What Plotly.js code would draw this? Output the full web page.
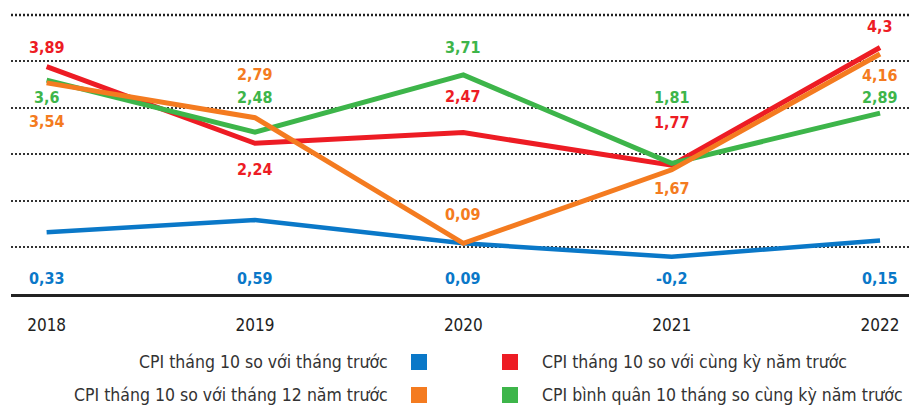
<!DOCTYPE html>
<html>
<head>
<meta charset="utf-8">
<script src="https://cdn.plot.ly/plotly-3.0.1.min.js"></script>
<style>
  html, body { margin: 0; padding: 0; background: #fff; }
  #chart { width: 909px; height: 405px; }
</style>
</head>
<body>
<div id="chart"></div>
<script>
// ---- data ----
const years = ['2018', '2019', '2020', '2021', '2022'];
const cpiMoM = [0.33, 0.59, 0.09, -0.2, 0.15];          // CPI tháng 10 so với tháng trước
const cpiYoY = [3.89, 2.24, 2.47, 1.77, 4.3];           // CPI tháng 10 so với cùng kỳ năm trước
const cpiYtdDec = [3.54, 2.79, 0.09, 1.67, 4.16];       // CPI tháng 10 so với tháng 12 năm trước
const cpiAvg10 = [3.6, 2.48, 3.71, 1.81, 2.89];         // CPI bình quân 10 tháng so cùng kỳ năm trước
const gridVals = [-1, 0, 1, 2, 3, 4, 5];
const seriesNames = [
  'CPI tháng 10 so với tháng trước',
  'CPI tháng 10 so với cùng kỳ năm trước',
  'CPI tháng 10 so với tháng 12 năm trước',
  'CPI bình quân 10 tháng so cùng kỳ năm trước'
];

// ---- style ----
const COLORS = { blue: '#0A78C8', red: '#ED1C24', orange: '#F47B20', green: '#3DB54A' };
const FONT = '"Liberation Sans Narrow", "DejaVu Sans Condensed", Roboto, sans-serif';
const W = 909, H = 405;
const M = { l: 11, r: 0, t: 1, b: 111 };
const plotW = W - M.l - M.r, plotH = H - M.t - M.b;
const px2x = x => (x - M.l) / plotW;
const px2y = y => (H - M.b - y) / plotH;
const fmt = v => String(v).replace('.', ',');

// label vertical offsets (pixels, positive = up)
const offYoY = [19, -26, 36, 43, 21];
const offYtd = [-39, 43, 29, -19, -21];
const offAvg = [-17, 35, 27, 66, 16];
const BLUE_LABEL_Y = -0.66;

function lineTrace(y, color, name, width) {
  return {
    type: 'scatter', mode: 'lines', x: years, y: y, name: name,
    line: { color: color, width: width || 5, shape: 'linear' },
    hoverinfo: 'skip', showlegend: false, cliponaxis: false
  };
}

const data = [
  lineTrace(cpiMoM, COLORS.blue, seriesNames[0], 4.5),
  lineTrace(cpiYoY, COLORS.red, seriesNames[1]),
  lineTrace(cpiAvg10, COLORS.green, seriesNames[3]),
  lineTrace(cpiYtdDec, COLORS.orange, seriesNames[2])
];

const LABEL_SIZE = 16;
const annotations = [];
function addLabels(vals, offs, color) {
  vals.forEach((v, i) => {
    annotations.push({
      x: i, y: v, xref: 'x', yref: 'y', text: '<b>' + fmt(v) + '</b>', showarrow: false,
      yshift: offs[i], xanchor: 'center', yanchor: 'middle',
      font: { family: FONT, size: LABEL_SIZE, color: color }
    });
  });
}
addLabels(cpiYoY, offYoY, COLORS.red);
addLabels(cpiYtdDec, offYtd, COLORS.orange);
addLabels(cpiAvg10, offAvg, COLORS.green);
cpiMoM.forEach((v, i) => {
  annotations.push({
    x: i, y: BLUE_LABEL_Y, xref: 'x', yref: 'y', text: '<b>' + fmt(v) + '</b>', showarrow: false,
    xanchor: 'center', yanchor: 'middle',
    font: { family: FONT, size: LABEL_SIZE, color: COLORS.blue }
  });
});

// top dotted gridline drawn as a solid-colour dashed rect strip in paper space
const shapes = [{
  type: 'line', xref: 'paper', yref: 'paper', x0: 0, x1: 1,
  y0: px2y(15), y1: px2y(15),
  line: { color: '#222222', width: 2.5, dash: '2px,2px' }, layer: 'above'
}];

// custom legend
const legendItems = [
  { name: seriesNames[0], color: COLORS.blue, side: 'left', row: 0 },
  { name: seriesNames[2], color: COLORS.orange, side: 'left', row: 1 },
  { name: seriesNames[1], color: COLORS.red, side: 'right', row: 0 },
  { name: seriesNames[3], color: COLORS.green, side: 'right', row: 1 }
];
const rowY = [362, 395];
legendItems.forEach(it => {
  const cy = rowY[it.row];
  const sqX = it.side === 'left' ? 411 : 502;
  shapes.push({
    type: 'rect', xref: 'paper', yref: 'paper',
    x0: px2x(sqX), x1: px2x(sqX + 16), y0: px2y(cy + 8), y1: px2y(cy - 8),
    fillcolor: it.color, line: { width: 0 }
  });
  annotations.push({
    xref: 'paper', yref: 'paper', showarrow: false,
    x: it.side === 'left' ? px2x(390) : px2x(540), y: px2y(cy),
    xanchor: it.side === 'left' ? 'right' : 'left', yanchor: 'middle',
    text: it.name, font: { family: FONT, size: 17.5, color: '#333' }
  });
});

const layout = {
  width: W, height: H,
  margin: M,
  paper_bgcolor: '#fff', plot_bgcolor: '#fff',
  showlegend: false,
  font: { family: FONT, color: '#222' },
  xaxis: {
    type: 'category', range: [-0.171, 4.139],
    showgrid: false, zeroline: false,
    showline: true, linecolor: '#222', linewidth: 3,
    ticks: '', ticklabelstandoff: 14,
    tickfont: { family: FONT, size: 17, color: '#222' }
  },
  yaxis: {
    range: [-1, 5.3], tickmode: 'array', tickvals: gridVals,
    showgrid: true, gridcolor: '#333', gridwidth: 2, griddash: '2px,2px',
    zeroline: false, showticklabels: false, ticks: '', showline: false
  },
  annotations: annotations,
  shapes: shapes
};

Plotly.newPlot('chart', data, layout, { displayModeBar: false, staticPlot: true });
</script>
</body>
</html>
